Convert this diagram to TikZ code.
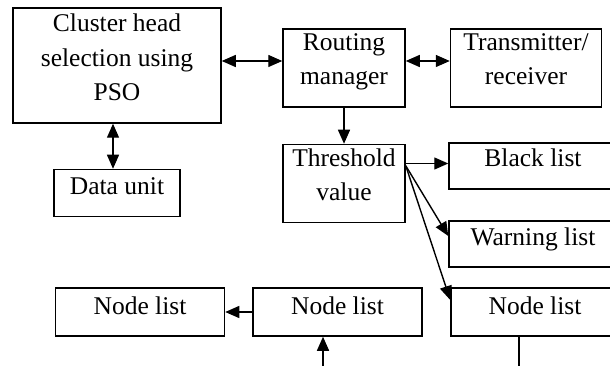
\documentclass[tikz,border=0pt]{standalone}
\usepackage{fontspec}
\setmainfont{Liberation Serif}
\usetikzlibrary{arrows.meta, positioning}

\begin{document}
\begin{tikzpicture}[x=1pt, y=-1pt,
  box/.style={draw, line width=1.5pt, inner xsep=0pt, inner ysep=0pt, align=center,
    font=\fontsize{25.5}{34.5}\selectfont, text depth=22pt},
  arr/.style={line width=1.4pt, -{Triangle[length=14pt,width=12pt]}},
  dbl/.style={line width=1.4pt, {Triangle[length=14pt,width=12pt]}-{Triangle[length=14pt,width=12pt]}},
]
  \useasboundingbox (0,0) rectangle (610,366);
  \node[box, minimum width=208pt, text height=93pt] (chs) at (117,65.5) {Cluster head\\selection using\\PSO};
  \node[box, minimum width=126pt, text height=25pt, below=45pt of chs] (data) {Data unit};
  \node[box, minimum width=122pt, text height=56pt] (rm) at (344,68) {Routing\\manager};
  \node[box, minimum width=151pt, text height=56pt, right=44pt of rm] (trx) {Transmitter/\\receiver};
  \node[box, minimum width=122pt, text height=56pt, below=36pt of rm] (thr) {Threshold\\value};
  \node[box, minimum width=168pt, text height=24pt] (blk) at (533,166) {Black list};
  \node[box, minimum width=168pt, text height=24pt] (warn) at (533,244) {Warning list};
  \node[box, minimum width=168pt, text height=26pt] (nlC) at (535,312) {Node list};
  \node[box, minimum width=169pt, text height=26pt] (nlB) at (337.5,312) {Node list};
  \node[box, minimum width=169pt, text height=26pt, left=27pt of nlB] (nlA) {Node list};

  \draw[dbl] ([yshift=7pt]rm.west -| chs.east) -- ([yshift=7pt]rm.west);
  \draw[dbl] ([yshift=7pt]rm.east) -- ([yshift=7pt]trx.west);
  \draw[dbl] ([xshift=-4pt]data.north |- chs.south) -- ([xshift=-4pt]data.north);
  \draw[arr] (rm.south) -- (thr.north);
  \draw[arr] ([yshift=20pt]thr.east) -- ([yshift=20pt]thr.east -| blk.west);
  \draw[arr] ([yshift=-22pt]thr.north east) -- ([yshift=8pt]warn.west);
  \draw[arr] ([yshift=-22pt]thr.north east) -- ([yshift=12pt]nlC.west);
  \draw[arr] (nlB.west) -- (nlA.east);
  \coordinate (inB) at (323,366);
  \draw[arr] (inB) -- (inB |- nlB.south);
  \coordinate (outC) at (519,366);
  \draw[line width=1.4pt] (nlC.south -| outC) -- (outC);
\end{tikzpicture}
\end{document}
